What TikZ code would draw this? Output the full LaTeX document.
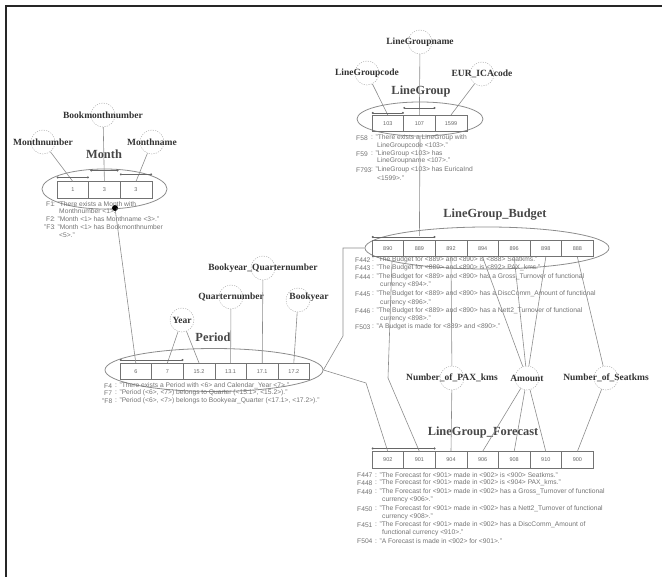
\documentclass[tikz,border=0pt]{standalone}
\usepackage{fontspec}
\setmainfont{Liberation Serif}
\setsansfont{Liberation Sans}
\usetikzlibrary{shapes.geometric,arrows.meta}
\begin{document}
\begin{tikzpicture}[x=1pt,y=-1pt]
\tikzset{
 conn/.style={draw=black!45, line width=0.6pt},
 cell/.style={draw=black!55, line width=0.6pt, minimum width=31.6pt, minimum height=16.5pt, inner sep=0, font=\sffamily\fontsize{5.5}{6}\selectfont, text=black!60},
 grp/.style={ellipse, draw=black!45, line width=0.8pt, inner sep=0},
 attrc/.style={circle, draw=black!30, dash pattern=on 1.2pt off 1.2pt, line width=0.5pt, minimum size=24pt, inner sep=0},
 attrl/.style={font=\bfseries\fontsize{9.5}{11}\selectfont, text=black!80, inner sep=0},
 ttl/.style={font=\bfseries\fontsize{12.4}{14}\selectfont, text=black!72, inner sep=0},
 fact/.style={font=\sffamily\fontsize{6.7}{7}\selectfont, text=black!55, anchor=west, inner sep=0},
 ubar/.style={draw=black!60, line width=0.5pt, {Circle[length=2pt]}-{Circle[length=2pt]}},
 bigdot/.style={circle, fill=black, inner sep=0, minimum size=6pt},
 frame/.style={draw=black!85, line width=1.5pt},
}
\useasboundingbox (0,0) rectangle (662,577);
\draw[frame] (6,577) -- (6,6) -- (662,6);

% ---------------- Month ----------------
\node[grp, minimum width=125pt, minimum height=40pt] (mE) at (104.5,189) {};
\node[ttl] (mT) at (104,154) {Month};
\node[cell] (m1) at (72.8,190) {1};
\node[cell] (m2) at (104.4,190) {3};
\node[cell] (m3) at (136.0,190) {3};
\node[attrc] (aMn) at (43,142) {};
\node[attrl] (aMnL) at (aMn) {Monthnumber};
\node[attrc] (aBm) at (103,115) {};
\node[attrl] (aBmL) at (aBm) {Bookmonthnumber};
\node[attrc] (aMa) at (152,142) {};
\node[attrl] (aMaL) at (aMa) {Monthname};
\draw[conn] (aMn) -- (m1.north);
\draw[conn] (aBm) -- (m2.north);
\draw[conn] (aMa) -- (m3.north);
\draw[ubar] ([yshift=4pt]m1.north west) -- ([yshift=4pt]m1.north east);
\draw[ubar] ([yshift=11pt,xshift=2pt]m2.north west) -- ([yshift=11pt,xshift=-2pt]m2.north east);
\draw[ubar] ([yshift=7pt]m3.north west) -- ([yshift=7pt]m3.north east);
\node[bigdot] (mdot) at (115,208) {};
\node[fact] (mf1l) at (46,204) {F1};
\node[fact] (mf1) at (53,204) {: "There exists a Month with};
\node[fact] (mf1b) at (59,211) {Monthnumber <1>."};
\node[fact] (mf2l) at (46,219) {F2};
\node[fact] (mf2) at (53,219) {: "Month <1> has Monthname <3>."};
\node[fact] (mf3l) at (44,227) {"F3};
\node[fact] (mf3) at (53,227) {: "Month <1> has Bookmonthnumber};
\node[fact] (mf3b) at (59,235) {<5>."};

% ---------------- LineGroup ----------------
\node[grp, minimum width=126pt, minimum height=34pt] (lE) at (420,119) {};
\node[ttl] (lT) at (421,92) {LineGroup};
\node[cell] (l1) at (387.8,123.5) {103};
\node[cell] (l2) at (419.4,123.5) {107};
\node[cell] (l3) at (451.0,123.5) {1599};
\node[attrc] (aLn) at (420,42) {};
\node[attrl] (aLnL) at (aLn) {LineGroupname};
\node[attrc] (aLc) at (367,73) {};
\node[attrl] (aLcL) at (aLc) {LineGroupcode};
\node[attrc] (aEu) at (482,74) {};
\node[attrl] (aEuL) at (aEu) {EUR\_ICAcode};
\draw[conn] (aLn) -- (l2.north);
\draw[conn] (aLc) -- (l1.north);
\draw[conn] (aEu) -- (l3.north);
\draw[ubar] ([yshift=2pt]l1.north west) -- ([yshift=2pt]l1.north east);
\draw[ubar] ([yshift=7pt]l2.north west) -- ([yshift=7pt]l2.north east);
\node[fact] (lf1l) at (356,138) {F58};
\node[fact] (lf1) at (371,138) {: "There exists a LineGroup with};
\node[fact] (lf1b) at (377,146) {LineGroupcode <103>."};
\node[fact] (lf2l) at (356,154) {F59};
\node[fact] (lf2) at (371,154) {: "LineGroup <103> has};
\node[fact] (lf2b) at (377,161) {LineGroupname <107>."};
\node[fact] (lf3l) at (356,170) {F793};
\node[fact] (lf3) at (371,170) {: "LineGroup <103> has EuricaInd};
\node[fact] (lf3b) at (377,178) {<1599>."};

% ---------------- LineGroup_Budget ----------------
\node[grp, minimum width=244pt, minimum height=42pt] (bE) at (487,248) {};
\node[ttl] (bT) at (495,215) {LineGroup\_Budget};
\node[cell] (b1) at (387.8,248.5) {890};
\node[cell] (b2) at (419.4,248.5) {889};
\node[cell] (b3) at (451.0,248.5) {892};
\node[cell] (b4) at (482.6,248.5) {894};
\node[cell] (b5) at (514.2,248.5) {896};
\node[cell] (b6) at (545.8,248.5) {898};
\node[cell] (b7) at (577.4,248.5) {888};
\draw[ubar] ([yshift=3pt]b1.north west) -- ([yshift=3pt]b2.north east);
\draw[conn] (lE.south) -- ([yshift=4pt]b2.north);
\node[fact] (bf1l) at (355,260) {F442};
\node[fact] (bf1) at (372,260) {: "The Budget for <889> and <890> is <888> Seatkms."};
\node[fact] (bf2l) at (355,268) {F443};
\node[fact] (bf2) at (372,268) {: "The Budget for <889> and <890> is <892> PAX\_kms."};
\node[fact] (bf3l) at (355,277) {F444};
\node[fact] (bf3) at (372,277) {: "The Budget for <889> and <890> has a Gross\_Turnover of functional};
\node[fact] (bf3b) at (380,285) {currency <894>."};
\node[fact] (bf4l) at (355,294) {F445};
\node[fact] (bf4) at (372,294) {: "The Budget for <889> and <890> has a DiscComm\_Amount of functional};
\node[fact] (bf4b) at (380,303) {currency <896>."};
\node[fact] (bf5l) at (355,311) {F446};
\node[fact] (bf5) at (372,311) {: "The Budget for <889> and <890> has a Nett2\_Turnover of functional};
\node[fact] (bf5b) at (380,319) {currency <898>."};
\node[fact] (bf6l) at (355,327) {F503};
\node[fact] (bf6) at (372,327) {: "A Budget is made for <889> and <890>."};

% ---------------- Period ----------------
\node[grp, minimum width=218pt, minimum height=43pt] (pE) at (214,370) {};
\node[ttl] (pT) at (213,337) {Period};
\node[cell] (p1) at (135.8,371.5) {6};
\node[cell] (p2) at (167.4,371.5) {7};
\node[cell] (p3) at (199.0,371.5) {15.2};
\node[cell] (p4) at (230.6,371.5) {13.1};
\node[cell] (p5) at (262.2,371.5) {17.1};
\node[cell] (p6) at (293.8,371.5) {17.2};
\node[attrc] (aYr) at (182,320) {};
\node[attrl] (aYrL) at (aYr) {Year};
\node[attrc] (aQn) at (231,297) {};
\node[attrl] (aQnL) at (aQn) {Quarternumber};
\node[attrc] (aBq) at (263,268) {};
\node[attrl] (aBqL) at (aBq) {Bookyear\_Quarternumber};
\node[attrc] (aBy) at (298,300) {};
\node[attrl] (aByL) at (309,297) {Bookyear};
\draw[conn] (aYr) -- (p2.north);
\draw[conn] (aYr) -- (p3.north);
\draw[conn] (aQn) -- (p4.north);
\draw[conn] (aBq) -- (p5.north);
\draw[conn] (aBy) -- (p6.north);
\draw[ubar] ([yshift=3pt]p1.north west) -- ([yshift=3pt]p2.north east);
\draw[conn] (mdot) -- (p1.north);
\node[fact] (pf1l) at (104,386) {F4};
\node[fact] (pf1) at (115,386) {: "There exists a Period with <6> and Calendar\_Year <7>."};
\node[fact] (pf2l) at (104,393) {F7};
\node[fact] (pf2) at (115,393) {: "Period (<6>, <7>) belongs to Quarter (<15.1>, <15.2>)."};
\node[fact] (pf3l) at (102,401) {"F8};
\node[fact] (pf3) at (115,401) {: "Period (<6>, <7>) belongs to Bookyear\_Quarter (<17.1>, <17.2>)."};

% ---------------- LineGroup_Forecast ----------------
\node[ttl] (fT) at (483,433) {LineGroup\_Forecast};
\node[cell] (f1) at (387.8,460) {902};
\node[cell] (f2) at (419.4,460) {901};
\node[cell] (f3) at (451.0,460) {904};
\node[cell] (f4) at (482.6,460) {906};
\node[cell] (f5) at (514.2,460) {908};
\node[cell] (f6) at (545.8,460) {910};
\node[cell] (f7) at (577.4,460) {900};
\draw[ubar] ([yshift=3pt]f1.north west) -- ([yshift=3pt]f2.north east);
\node[fact] (ff1l) at (357,475) {F447};
\node[fact] (ff1) at (375,475) {: "The Forecast for <901> made in <902> is <900> Seatkms."};
\node[fact] (ff2l) at (357,483) {F448};
\node[fact] (ff2) at (375,483) {: "The Forecast for <901> made in <902> is <904> PAX\_kms."};
\node[fact] (ff3l) at (357,492) {F449};
\node[fact] (ff3) at (375,492) {: "The Forecast for <901> made in <902> has a Gross\_Turnover of functional};
\node[fact] (ff3b) at (382,500) {currency <906>."};
\node[fact] (ff4l) at (357,509) {F450};
\node[fact] (ff4) at (375,509) {: "The Forecast for <901> made in <902> has a Nett2\_Turnover of functional};
\node[fact] (ff4b) at (382,517) {currency <908>."};
\node[fact] (ff5l) at (357,525) {F451};
\node[fact] (ff5) at (375,525) {: "The Forecast for <901> made in <902> has a DiscComm\_Amount of};
\node[fact] (ff5b) at (382,533) {functional currency <910>."};
\node[fact] (ff6l) at (357,541) {F504};
\node[fact] (ff6) at (375,541) {: "A Forecast is made in <902> for <901>."};

% ---------------- shared attributes ----------------
\node[attrc] (aPx) at (452,378) {};
\node[attrl] (aPxL) at (aPx) {Number\_of\_PAX\_kms};
\node[attrc] (aAm) at (527,378) {};
\node[attrl] (aAmL) at (aAm) {Amount};
\node[attrc] (aSk) at (606,378) {};
\node[attrl] (aSkL) at (aSk) {Number\_of\_Seatkms};

\draw[conn] (b3.south) -- (aPx);
\draw[conn] (aPx) -- (f3.north);
\draw[conn] (b4.south) -- (aAm);
\draw[conn] (b5.south) -- (aAm);
\draw[conn] (b6.south) -- (aAm);
\draw[conn] (aAm) -- (f4.north);
\draw[conn] (aAm) -- (f5.north);
\draw[conn] (aAm) -- (f6.north);
\draw[conn] (b7.south) -- (aSk);
\draw[conn] (aSk) -- (f7.north);

% ---------------- connectors between groups ----------------
\coordinate (bOut) at (392,261);
\draw[conn] (bOut) -- (388,378) -- (f2.north);
\draw[conn] (pE.east) -- (343,336) -- (343,248) -- (bE.west);
\draw[conn] (pE.east) -- (366,383) -- (f1.north);
\end{tikzpicture}
\end{document}
